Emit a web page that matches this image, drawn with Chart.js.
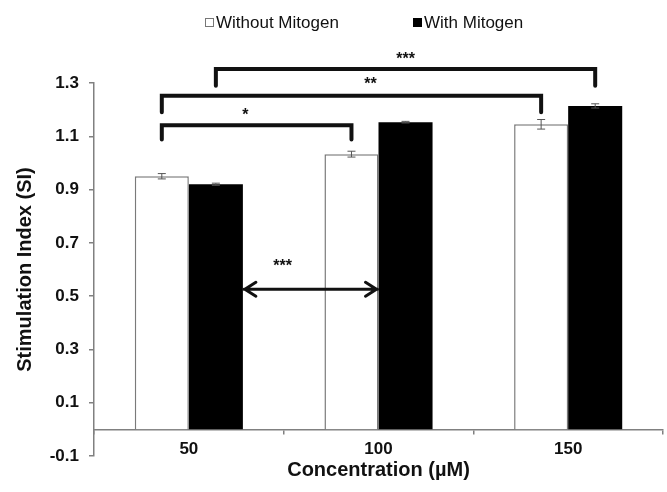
<!DOCTYPE html>
<html>
<head>
<meta charset="utf-8">
<script src="https://cdn.jsdelivr.net/npm/chart.js@4/dist/chart.umd.min.js"></script>
<style>
  body { margin: 0; background: #fff; }
  #wrap { width: 667px; height: 492px; }
</style>
</head>
<body>
<div id="wrap"><canvas id="myChart"></canvas></div>
<script>
// Data
const concentrations = ['50', '100', '150'];
const withoutMitogen = [0.950, 1.033, 1.145];
const withMitogen = [0.920, 1.153, 1.214];
const errWithout = [0.010, 0.011, 0.018];
const errWith = [0.004, 0.003, 0.008];
const seriesNames = ['Without Mitogen', 'With Mitogen'];
const yMin = -0.1;
const yMax = 1.3;
const yStep = 0.2;

// Significance marks: bars given as [dataset, index], heights in SI units
const brackets = [
    { from: [0, 0], to: [0, 1], top: 1.141, foot: 1.088, stars: '*', at: 0.44, starY: 1.195 },
    { from: [0, 0], to: [0, 2], top: 1.252, foot: 1.190, stars: '**', at: 0.55, starY: 1.310 },
    { from: [1, 0], to: [1, 2], top: 1.353, foot: 1.290, stars: '***', at: 0.50, starY: 1.404 }
];
const arrowMark = { from: [1, 0], to: [1, 1], y: 0.526, stars: '***', starY: 0.628 };

const errors = [errWithout, errWith];
const FONT = '"Liberation Sans", Arial, sans-serif';

Chart.defaults.font.family = FONT;
Chart.defaults.color = '#111';

// Error bars, brackets, arrow and legend
const annotate = {
    id: 'annotate',
    afterDatasetsDraw(chart) {
        const { ctx, scales: { y } } = chart;
        const bar = (ref) => chart.getDatasetMeta(ref[0]).data[ref[1]];

        ctx.save();
        // error bars
        chart.data.datasets.forEach((ds, di) => {
            chart.getDatasetMeta(di).data.forEach((el, i) => {
                const v = ds.data[i];
                const e = errors[di][i];
                const y1 = y.getPixelForValue(v + e);
                const y2 = y.getPixelForValue(v - e);
                ctx.strokeStyle = '#555';
                ctx.lineWidth = 1;
                ctx.beginPath();
                ctx.moveTo(el.x, y1); ctx.lineTo(el.x, y2);
                ctx.moveTo(el.x - 4, y1); ctx.lineTo(el.x + 4, y1);
                ctx.moveTo(el.x - 4, y2); ctx.lineTo(el.x + 4, y2);
                ctx.stroke();
            });
        });

        // brackets
        ctx.strokeStyle = '#111';
        ctx.fillStyle = '#111';
        ctx.lineWidth = 4;
        ctx.lineCap = 'round';
        ctx.lineJoin = 'miter';
        ctx.font = 'bold 16px ' + FONT;
        ctx.textAlign = 'center';
        ctx.textBaseline = 'alphabetic';
        brackets.forEach(b => {
            const x1 = bar(b.from).x;
            const x2 = bar(b.to).x;
            const yt = y.getPixelForValue(b.top);
            const yf = y.getPixelForValue(b.foot);
            ctx.beginPath();
            ctx.moveTo(x1, yf); ctx.lineTo(x1, yt); ctx.lineTo(x2, yt); ctx.lineTo(x2, yf);
            ctx.stroke();
            ctx.fillText(b.stars, x1 + (x2 - x1) * b.at, y.getPixelForValue(b.starY) + 9);
        });

        // double-headed arrow
        const a1 = bar(arrowMark.from);
        const a2 = bar(arrowMark.to);
        const ax1 = a1.x + a1.width / 2 + 1;
        const ax2 = a2.x - a2.width / 2 - 1;
        const ay = y.getPixelForValue(arrowMark.y);
        ctx.lineWidth = 3;
        ctx.beginPath();
        ctx.moveTo(ax1, ay); ctx.lineTo(ax2, ay);
        ctx.moveTo(ax1 + 12, ay - 7); ctx.lineTo(ax1 + 1, ay); ctx.lineTo(ax1 + 12, ay + 7);
        ctx.moveTo(ax2 - 12, ay - 7); ctx.lineTo(ax2 - 1, ay); ctx.lineTo(ax2 - 12, ay + 7);
        ctx.stroke();
        ctx.fillText(arrowMark.stars, (ax1 + ax2) / 2 - 28, y.getPixelForValue(arrowMark.starY) + 9);

        // legend
        const legendX = [205, 413];
        ctx.font = '17px ' + FONT;
        ctx.textAlign = 'left';
        ctx.textBaseline = 'middle';
        chart.data.datasets.forEach((ds, di) => {
            const lx = legendX[di];
            ctx.lineWidth = 1;
            ctx.fillStyle = ds.backgroundColor;
            ctx.fillRect(lx, 18, 9, 9);
            ctx.strokeStyle = di === 0 ? '#777' : '#000';
            ctx.strokeRect(lx + 0.5, 18.5, 8, 8);
            ctx.fillStyle = '#111';
            ctx.fillText(ds.label, lx + 11, 23);
        });
        ctx.restore();
    }
};

const ctx = document.getElementById('myChart').getContext('2d');
new Chart(ctx, {
    type: 'bar',
    data: {
        labels: concentrations,
        datasets: [{
            label: seriesNames[0],
            data: withoutMitogen,
            backgroundColor: '#ffffff',
            borderColor: '#7a7a7a',
            borderWidth: 1.5,
            categoryPercentage: 0.57,
            barPercentage: 1
        }, {
            label: seriesNames[1],
            data: withMitogen,
            backgroundColor: '#000000',
            borderWidth: 0,
            categoryPercentage: 0.57,
            barPercentage: 1
        }]
    },
    options: {
        responsive: true,
        maintainAspectRatio: false,
        animation: false,
        // the x axis sits at y = 0, so it takes no layout room; reserve the space below here
        layout: { padding: { top: 83, right: 4, bottom: 36, left: 0 } },
        plugins: {
            legend: { display: false },
            tooltip: { enabled: false }
        },
        scales: {
            x: {
                position: { y: 0 },
                offset: true,
                grid: { drawOnChartArea: false, tickLength: 4, color: '#808080', lineWidth: 1.5 },
                border: { color: '#808080', width: 1.5 },
                ticks: { font: { size: 17, weight: 'bold' }, color: '#111', padding: 6 },
                title: {
                    display: true,
                    text: 'Concentration (µM)',
                    font: { size: 20, weight: 'bold' },
                    color: '#111',
                    padding: { top: 0, bottom: -17 }
                },
                afterFit: (s) => { s.height = 36; }
            },
            y: {
                min: yMin,
                max: yMax,
                ticks: {
                    stepSize: yStep,
                    callback: (v) => v.toFixed(1),
                    font: { size: 17, weight: 'bold' },
                    color: '#111',
                    padding: 10
                },
                grid: { drawOnChartArea: false, tickLength: 5, color: '#808080', lineWidth: 1.5 },
                border: { color: '#808080', width: 1.5 },
                title: {
                    display: true,
                    text: 'Stimulation Index (SI)',
                    font: { size: 20, weight: 'bold' },
                    color: '#111',
                    padding: { top: 13, bottom: 0 }
                },
                afterFit: (s) => { s.width = 94; }
            }
        }
    },
    plugins: [annotate]
});
</script>
</body>
</html>
